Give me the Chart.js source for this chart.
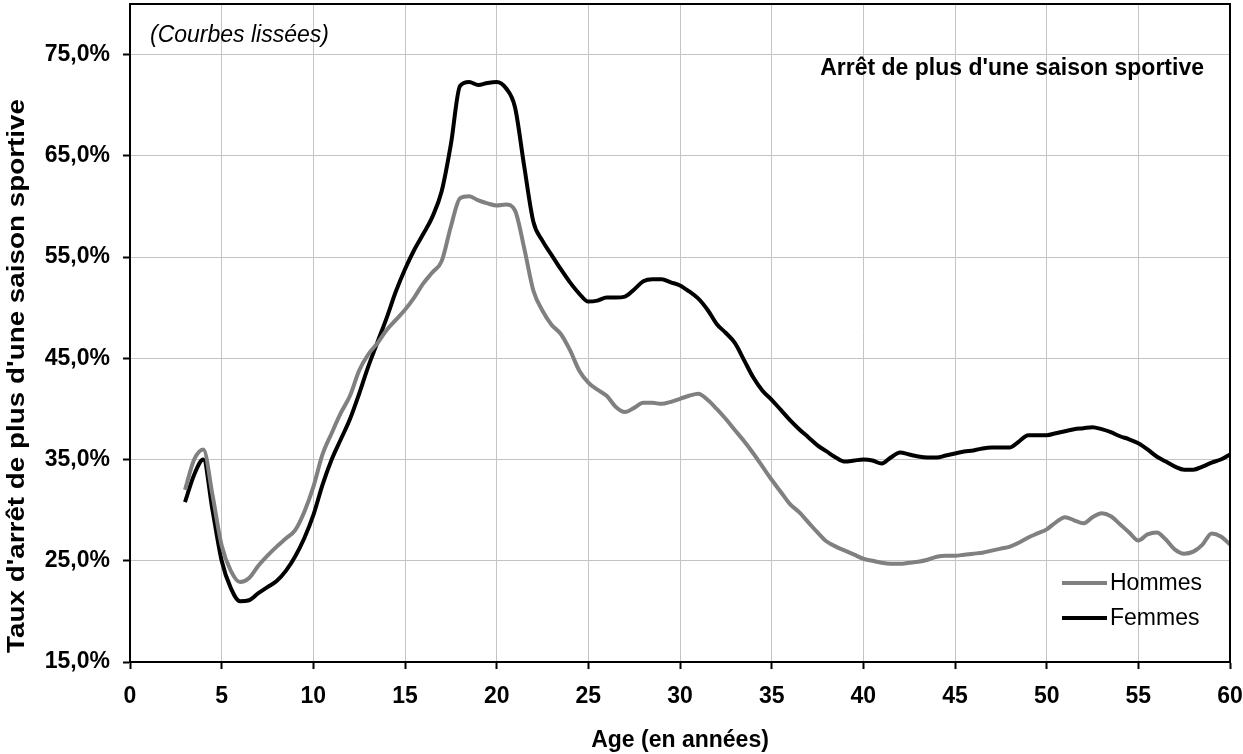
<!DOCTYPE html>
<html>
<head>
<meta charset="utf-8">
<script src="https://cdn.jsdelivr.net/npm/chart.js@4/dist/chart.umd.min.js"></script>
<style>
  html, body { margin: 0; padding: 0; background: #fff; }
  #wrap { width: 1243px; height: 754px; position: relative; }
</style>
</head>
<body>
<div id="wrap"><canvas id="tauxChart"></canvas></div>
<script>
// ages (en années), one point every half year
const ages = [
  3, 3.5, 4, 4.5, 5, 5.5, 6, 6.5, 7, 7.5,
  8, 8.5, 9, 9.5, 10, 10.5, 11, 11.5, 12, 12.5,
  13, 13.5, 14, 14.5, 15, 15.5, 16, 16.5, 17, 17.5,
  18, 18.5, 19, 19.5, 20, 20.5, 21, 21.5, 22, 22.5,
  23, 23.5, 24, 24.5, 25, 25.5, 26, 26.5, 27, 27.5,
  28, 28.5, 29, 29.5, 30, 30.5, 31, 31.5, 32, 32.5,
  33, 33.5, 34, 34.5, 35, 35.5, 36, 36.5, 37, 37.5,
  38, 38.5, 39, 39.5, 40, 40.5, 41, 41.5, 42, 42.5,
  43, 43.5, 44, 44.5, 45, 45.5, 46, 46.5, 47, 47.5,
  48, 48.5, 49, 49.5, 50, 50.5, 51, 51.5, 52, 52.5,
  53, 53.5, 54, 54.5, 55, 55.5, 56, 56.5, 57, 57.5,
  58, 58.5, 59, 59.5, 60
];

// taux (%) - courbes lissées
const hommes = [
  32.0, 35.0, 36.0, 31.5, 26.5, 24.0, 22.9, 23.3, 24.5, 25.5,
  26.4, 27.2, 28.0, 29.8, 32.3, 35.5, 37.6, 39.6, 41.3, 43.8,
  45.4, 46.5, 47.8, 48.8, 49.8, 51.0, 52.4, 53.5, 54.6, 58.0,
  60.8, 61.0, 60.6, 60.3, 60.1, 60.2, 59.6, 55.9, 51.7, 49.7,
  48.3, 47.4, 45.8, 43.8, 42.6, 41.9, 41.3, 40.2, 39.7, 40.1,
  40.6, 40.6, 40.5, 40.7, 41.0, 41.3, 41.5, 40.9, 40.0, 39.0,
  37.9, 36.8, 35.6, 34.3, 33.0, 31.8, 30.6, 29.8, 28.8, 27.8,
  26.9, 26.4, 26.0, 25.6, 25.2, 25.0, 24.8, 24.7, 24.7, 24.8,
  24.9, 25.1, 25.4, 25.5, 25.5, 25.6, 25.7, 25.8, 26.0, 26.2,
  26.4, 26.8, 27.3, 27.7, 28.1, 28.8, 29.3, 29.0, 28.7, 29.3,
  29.7, 29.4, 28.6, 27.8, 27.0, 27.6, 27.8, 27.1, 26.1, 25.7,
  25.9, 26.6, 27.7, 27.4, 26.6
];

const femmes = [
  30.8, 33.5, 35.0, 30.0, 25.0, 22.3, 21.0, 21.1, 21.8, 22.4,
  23.0, 24.0, 25.4, 27.2, 29.5, 32.5, 35.0, 37.0, 39.0, 41.5,
  44.2, 46.6, 49.0, 51.6, 53.8, 55.7, 57.3, 59.0, 61.5, 66.1,
  71.9, 72.3, 72.0, 72.2, 72.3, 71.7, 69.8, 64.0, 58.5, 56.6,
  55.2, 53.8, 52.5, 51.4, 50.6, 50.7, 51.0, 51.0, 51.1, 51.8,
  52.6, 52.8, 52.8, 52.5, 52.2, 51.6, 50.9, 49.8, 48.4, 47.5,
  46.5, 44.8, 43.1, 41.8, 40.9, 39.9, 38.9, 38.0, 37.2, 36.4,
  35.8, 35.2, 34.8, 34.9, 35.0, 34.9, 34.6, 35.2, 35.7, 35.5,
  35.3, 35.2, 35.2, 35.4, 35.6, 35.8, 35.9, 36.1, 36.2, 36.2,
  36.2, 36.8, 37.4, 37.4, 37.4, 37.6, 37.8, 38.0, 38.1, 38.2,
  38.0, 37.7, 37.3, 37.0, 36.6, 36.0, 35.3, 34.8, 34.3, 34.0,
  34.0, 34.3, 34.7, 35.0, 35.5
];

const yTicks = [15, 25, 35, 45, 55, 65, 75];

const FONT = "'Liberation Sans', Arial, sans-serif";
const Y_TITLE = "Taux d'arrêt de plus d'une saison sportive";

const toPoints = (vals) => ages.map((a, i) => ({ x: a, y: vals[i] }));

// texts + plot frame + legend inside the plot
const decorPlugin = {
  id: 'decor',
  afterDraw(chart) {
    const { ctx, chartArea: a } = chart;
    ctx.save();
    ctx.strokeStyle = '#000';
    ctx.lineWidth = 2;
    ctx.strokeRect(a.left, a.top, a.right - a.left, a.bottom - a.top);

    ctx.fillStyle = '#000';
    ctx.textBaseline = 'middle';
    ctx.font = `italic 23px ${FONT}`;
    ctx.textAlign = 'left';
    ctx.fillText('(Courbes lissées)', 150, 36);

    ctx.font = `bold 23px ${FONT}`;
    ctx.textAlign = 'right';
    ctx.fillText("Arrêt de plus d'une saison sportive", 1204, 69);

    // y axis title, drawn stretched along its length like the original
    ctx.save();
    ctx.translate(18, 376);
    ctx.rotate(-Math.PI / 2);
    ctx.scale(1.21, 1);
    ctx.textAlign = 'center';
    ctx.fillText(Y_TITLE, 0, 0);
    ctx.restore();

    // legend
    ctx.font = `23px ${FONT}`;
    ctx.textAlign = 'left';
    chart.data.datasets.forEach((ds, i) => {
      const y = 583 + i * 35;
      ctx.strokeStyle = ds.borderColor;
      ctx.lineWidth = 4;
      ctx.beginPath();
      ctx.moveTo(1062, y);
      ctx.lineTo(1107, y);
      ctx.stroke();
      ctx.fillText(ds.label, 1110, y + 1);
    });
    ctx.restore();
  }
};

const ctx = document.getElementById('tauxChart').getContext('2d');
const tauxChart = new Chart(ctx, {
  type: 'line',
  data: {
    datasets: [
      {
        label: 'Hommes',
        data: toPoints(hommes),
        borderColor: '#808080',
        borderWidth: 4,
        pointRadius: 0,
        cubicInterpolationMode: 'monotone',
        borderJoinStyle: 'round',
        fill: false
      },
      {
        label: 'Femmes',
        data: toPoints(femmes),
        borderColor: '#000000',
        borderWidth: 4,
        pointRadius: 0,
        cubicInterpolationMode: 'monotone',
        borderJoinStyle: 'round',
        fill: false
      }
    ]
  },
  options: {
    responsive: true,
    maintainAspectRatio: false,
    animation: false,
    layout: { padding: { top: 4, right: 13, bottom: 0, left: 0 } },
    plugins: {
      legend: { display: false },
      tooltip: { enabled: false }
    },
    scales: {
      x: {
        type: 'linear',
        min: 0,
        max: 60,
        afterFit(scale) {
          scale.height = 92;
          scale.paddingLeft = 0;
          scale.paddingRight = 0;
        },
        ticks: {
          stepSize: 5,
          autoSkip: false,
          maxRotation: 0,
          padding: 14,
          color: '#000',
          font: { family: FONT, size: 23, weight: 'bold' }
        },
        grid: { color: '#c4c4c4', lineWidth: 1, tickColor: '#000', tickLength: 7, tickWidth: 2 },
        border: { color: '#000', width: 2 },
        title: {
          display: true,
          text: 'Age (en années)',
          color: '#000',
          padding: { top: 0, bottom: 0 },
          font: { family: FONT, size: 23, weight: 'bold' }
        }
      },
      y: {
        min: 15,
        max: 80,
        afterBuildTicks(scale) {
          scale.ticks = yTicks.map(v => ({ value: v }));
        },
        afterFit(scale) {
          scale.width = 130;
          scale.paddingTop = 0;
          scale.paddingBottom = 0;
        },
        ticks: {
          padding: 13,
          color: '#000',
          font: { family: FONT, size: 23, weight: 'bold' },
          callback: (v) => v.toFixed(1).replace('.', ',') + '%'
        },
        grid: { color: '#c4c4c4', lineWidth: 1, tickColor: '#000', tickLength: 7, tickWidth: 2 },
        border: { color: '#000', width: 2 }
      }
    }
  },
  plugins: [decorPlugin]
});
</script>
</body>
</html>
